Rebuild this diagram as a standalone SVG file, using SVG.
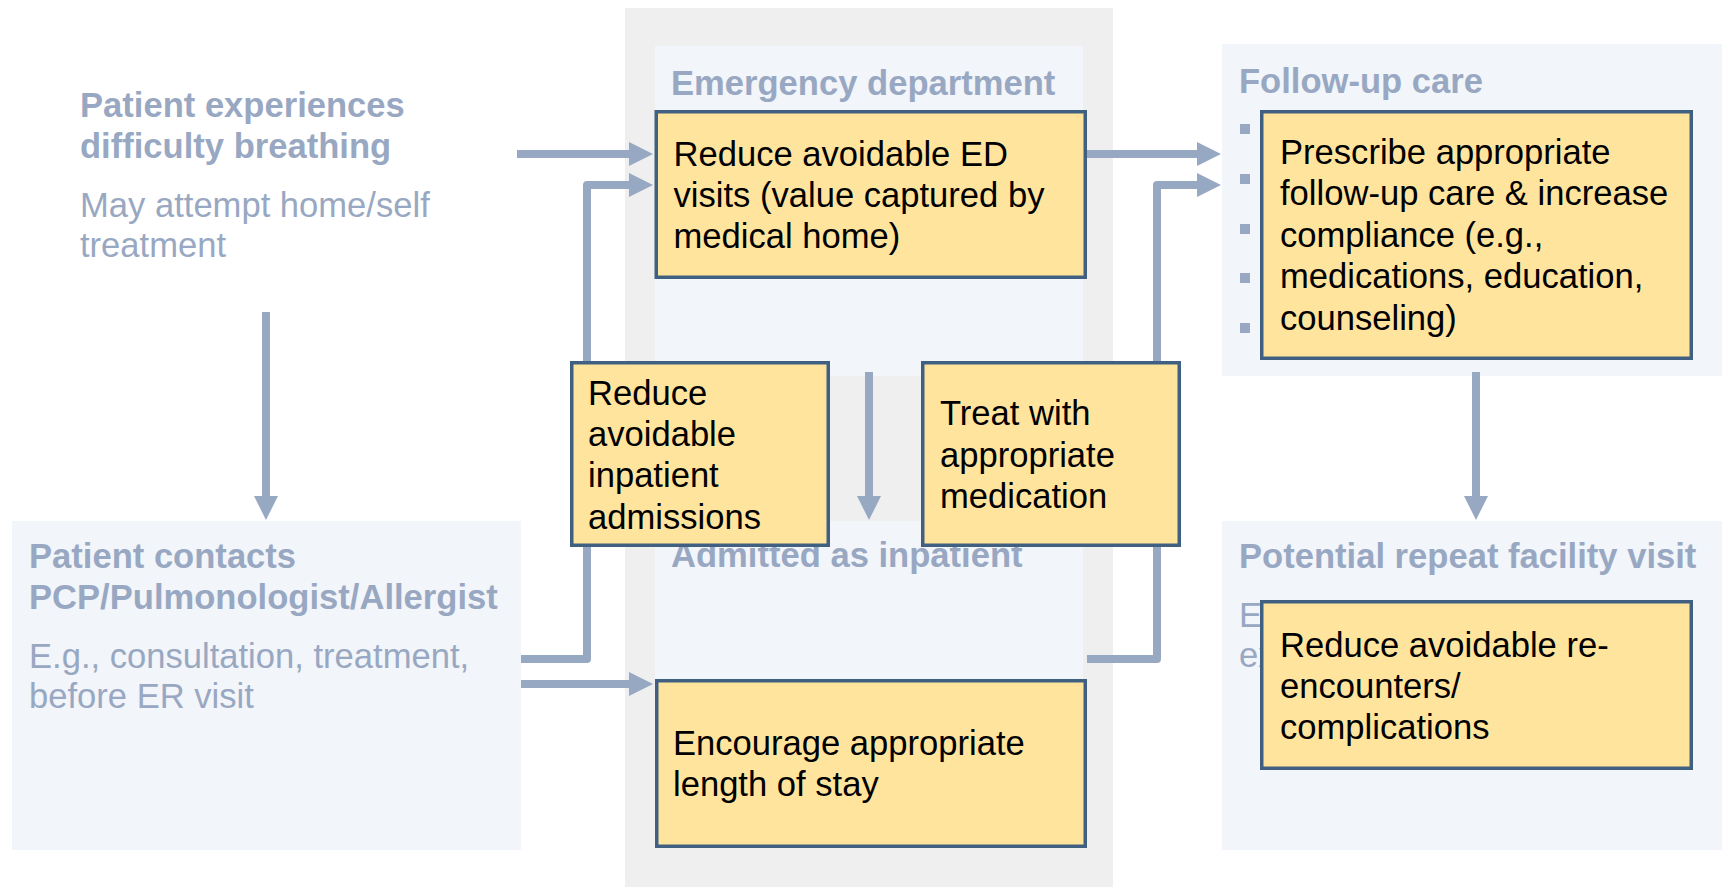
<svg xmlns="http://www.w3.org/2000/svg" width="1722" height="887" viewBox="0 0 1722 887">
<style>
text{font-family:"Liberation Sans",Arial,Helvetica,sans-serif;font-size:34.6px}
.t{fill:#99a8c2;font-weight:bold}
.s{fill:#99a8c2}
.b{fill:#000}
.panel{fill:#f2f5f9}
.col{fill:#efefef}
.box{fill:#ffe49e;stroke:#3f6080;stroke-width:3.5}
.conn{fill:none;stroke:#97a8c2;stroke-width:8;stroke-linejoin:round}
.bul{fill:#99a8c2}
</style>
<defs>
<marker id="ah" markerUnits="userSpaceOnUse" markerWidth="25" markerHeight="24" refX="1" refY="12" orient="auto" overflow="visible">
<path d="M0,0 L24,12 L0,24 Z" fill="#97a8c2"/>
</marker>
</defs>
<rect width="1722" height="887" fill="#ffffff"/>
<g id="hospital-column"><rect class="col" x="625" y="8" width="488" height="879"/></g>
<g id="symptom">
<text class="t" x="80" y="117">Patient experiences</text>
<text class="t" x="80" y="158">difficulty breathing</text>
<text class="s" x="80" y="217">May attempt home/self</text>
<text class="s" x="80" y="257">treatment</text>
</g>
<g id="contact">
<rect class="panel" x="12" y="521" width="509" height="329"/>
<text class="t" x="29" y="568">Patient contacts</text>
<text class="t" x="29" y="609">PCP/Pulmonologist/Allergist</text>
<text class="s" x="29" y="668">E.g., consultation, treatment,</text>
<text class="s" x="29" y="708">before ER visit</text>
</g>
<g id="ed">
<rect class="panel" x="655" y="46" width="428" height="330"/>
<text class="t" x="671" y="95">Emergency department</text>
</g>
<g id="inpatient">
<rect class="panel" x="655" y="521" width="428" height="327"/>
<text class="t" x="671" y="567">Admitted as inpatient</text>
</g>
<g id="followup">
<rect class="panel" x="1222" y="44" width="500" height="332"/>
<text class="t" x="1239" y="93">Follow-up care</text>
<rect class="bul" x="1240" y="124" width="10" height="10"/>
<rect class="bul" x="1240" y="174" width="10" height="10"/>
<rect class="bul" x="1240" y="224" width="10" height="10"/>
<rect class="bul" x="1240" y="273" width="10" height="10"/>
<rect class="bul" x="1240" y="323" width="10" height="10"/>
</g>
<g id="repeat">
<rect class="panel" x="1222" y="521" width="500" height="329"/>
<text class="t" x="1239" y="568">Potential repeat facility visit</text>
<text class="s" x="1239" y="627">E</text>
<text class="s" x="1239" y="667">ex</text>
</g>
<g id="connectors">
<path class="conn" d="M517 154 H630" marker-end="url(#ah)"/>
<path class="conn" d="M521 659 H587 V185 H630" marker-end="url(#ah)"/>
<path class="conn" d="M521 684 H630" marker-end="url(#ah)"/>
<path class="conn" d="M266 312 V497" marker-end="url(#ah)"/>
<path class="conn" d="M869 372 V497" marker-end="url(#ah)"/>
<path class="conn" d="M1087 154 H1198" marker-end="url(#ah)"/>
<path class="conn" d="M1087 659 H1157 V185 H1198" marker-end="url(#ah)"/>
<path class="conn" d="M1476 372 V497" marker-end="url(#ah)"/>
</g>
<g id="box-ed">
<rect class="box" x="656.25" y="111.75" width="429" height="165.5"/>
<text class="b" x="673.5" y="166">Reduce avoidable ED</text>
<text class="b" x="673.5" y="207">visits (value captured by</text>
<text class="b" x="673.5" y="248">medical home)</text>
</g>
<g id="box-admissions">
<rect class="box" x="571.75" y="362.75" width="256.5" height="182.5"/>
<text class="b" x="588" y="405">Reduce</text>
<text class="b" x="588" y="446">avoidable</text>
<text class="b" x="588" y="487">inpatient</text>
<text class="b" x="588" y="529">admissions</text>
</g>
<g id="box-treat">
<rect class="box" x="922.75" y="362.75" width="256.5" height="182.5"/>
<text class="b" x="940" y="425">Treat with</text>
<text class="b" x="940" y="467">appropriate</text>
<text class="b" x="940" y="508">medication</text>
</g>
<g id="box-stay">
<rect class="box" x="656.75" y="680.75" width="428.5" height="165.5"/>
<text class="b" x="673" y="755">Encourage appropriate</text>
<text class="b" x="673" y="796">length of stay</text>
</g>
<g id="box-followup">
<rect class="box" x="1261.75" y="111.75" width="429.5" height="246.5"/>
<text class="b" x="1280" y="164">Prescribe appropriate</text>
<text class="b" x="1280" y="205">follow-up care &amp; increase</text>
<text class="b" x="1280" y="247">compliance (e.g.,</text>
<text class="b" x="1280" y="288">medications, education,</text>
<text class="b" x="1280" y="330">counseling)</text>
</g>
<g id="box-repeat">
<rect class="box" x="1261.75" y="601.75" width="429.5" height="166.5"/>
<text class="b" x="1280" y="657">Reduce avoidable re-</text>
<text class="b" x="1280" y="698">encounters/</text>
<text class="b" x="1280" y="739">complications</text>
</g>
</svg>
